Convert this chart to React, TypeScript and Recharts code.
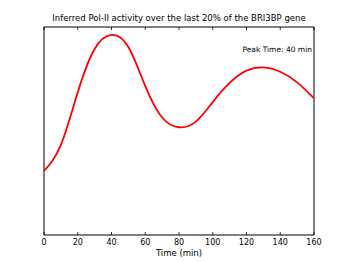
import { LineChart, Line, XAxis, YAxis, ReferenceArea } from 'recharts';

const times = [0, 10, 20, 30, 40, 50, 60, 70, 80, 90, 100, 110, 120, 130, 140, 150, 160];
const activity = [0.308, 0.433, 0.686, 0.894, 0.962, 0.904, 0.716, 0.565, 0.518, 0.545, 0.639, 0.731, 0.79, 0.806, 0.785, 0.734, 0.657];
const timeTicks = [0, 20, 40, 60, 80, 100, 120, 140, 160];

const title = 'Inferred Pol-II activity over the last 20% of the BRI3BP gene';
const peakNote = 'Peak Time: 40 min';

const data = times.map((t, i) => ({ time: t, activity: activity[i] }));

const font = '"DejaVu Sans", sans-serif';
const plotTop = 27;
const plotBottom = 235;

// matplotlib style: ticks point inward, on bottom and top spines
const TimeTick = (props: any) => {
  const { x, y, payload } = props;
  const top = y - (plotBottom - plotTop);
  return (
    <g>
      <line x1={x} y1={y} x2={x} y2={y - 3} stroke="#000" strokeWidth={0.8} />
      <line x1={x} y1={top} x2={x} y2={top + 3} stroke="#000" strokeWidth={0.8} />
      <text x={x} y={y + 10} textAnchor="middle" fontSize={8} fontFamily={font} fill="#000">
        {payload.value}
      </text>
    </g>
  );
};

const App = () => {
  return (
    <div style={{ position: 'fixed', left: 0, top: 0, width: 349, height: 262, background: '#fff', fontFamily: font }}>
      <div style={{ position: 'absolute', left: 44, width: 270, top: 12, textAlign: 'center', fontSize: 8.5, lineHeight: '12px', color: '#000', whiteSpace: 'nowrap' }}>
        {title}
      </div>
      <div style={{ position: 'absolute', right: 37, top: 45, fontSize: 7.5, lineHeight: '10px', color: '#000', whiteSpace: 'nowrap' }}>
        {peakNote}
      </div>
      <LineChart width={349} height={262} data={data} margin={{ top: plotTop, right: 35, bottom: 0, left: 44 }}>
        <XAxis
          dataKey="time"
          type="number"
          domain={[0, 160]}
          ticks={timeTicks}
          height={262 - plotBottom}
          tickSize={0}
          tickMargin={0}
          tickLine={false}
          axisLine={false}
          tick={<TimeTick />}
          label={{ value: 'Time (min)', position: 'insideBottom', offset: 6, fill: '#000', fontSize: 8.5, fontFamily: font }}
        />
        <YAxis domain={[0, 1]} width={0} tick={false} tickLine={false} axisLine={false} />
        <Line
          type="natural"
          dataKey="activity"
          stroke="#ff0000"
          strokeWidth={1.8}
          dot={false}
          isAnimationActive={false}
        />
        <ReferenceArea x1={0} x2={160} y1={0} y2={1} fill="none" stroke="#000" strokeWidth={1} ifOverflow="visible" />
      </LineChart>
    </div>
  );
};

export default App;
